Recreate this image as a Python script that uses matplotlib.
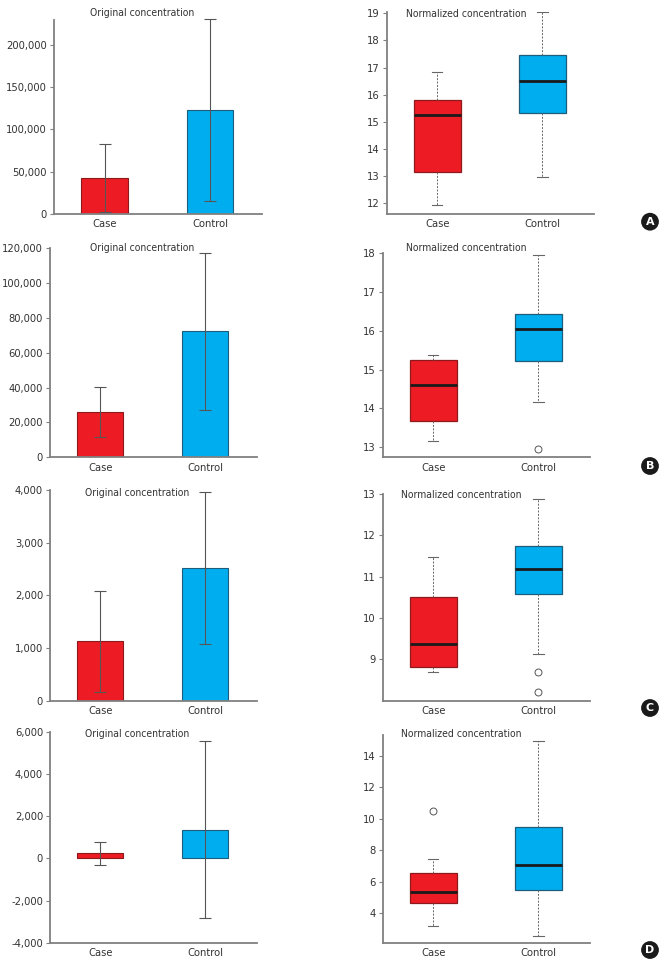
import numpy as np
import matplotlib
matplotlib.use('Agg')
import matplotlib.pyplot as plt
from matplotlib.ticker import StrMethodFormatter

plt.rcParams['font.family'] = ['DejaVu Sans']
plt.rcParams['font.stretch'] = 'condensed'
plt.rcParams['font.size'] = 8
plt.rcParams['axes.unicode_minus'] = False

groups = ['Case', 'Control']
panel_letters = ['A', 'B', 'C', 'D']

# original concentration: mean and error
bar_means = [[42250, 122700], [26100, 72200], [1130, 2520], [250, 1370]]
bar_errs = [[40250, 108000], [14300, 44800], [960, 1435], [550, 4200]]
bar_ylims = [(0, 230000), (0, 120000), (0, 4000), (-4000, 6000)]
bar_ticks = [np.arange(0, 200001, 50000), np.arange(0, 120001, 20000),
             np.arange(0, 4001, 1000), np.arange(-4000, 6001, 2000)]

# normalized concentration: whislo, q1, med, q3, whishi, fliers
box_case = [(11.93, 13.16, 15.25, 15.82, 16.85, []),
            (13.16, 13.67, 14.60, 15.25, 15.38, []),
            (8.69, 8.81, 9.36, 10.50, 11.48, []),
            (3.18, 4.69, 5.38, 6.56, 7.45, [10.5])]
box_ctrl = [(12.96, 15.34, 16.49, 17.47, 19.05, []),
            (14.17, 15.23, 16.05, 16.44, 17.95, [12.95]),
            (9.12, 10.57, 11.18, 11.74, 12.88, [8.69, 8.2]),
            (2.60, 5.50, 7.07, 9.47, 14.92, [])]
box_ylims = [(11.62, 19.06), (12.74, 18.02), (8.0, 13.0), (2.15, 15.3)]
box_ticks = [np.arange(12, 20), np.arange(13, 19), np.arange(9, 14), np.arange(4, 15, 2)]

red, red_edge = '#ED1C24', '#8C1A1D'
blue, blue_edge = '#00AEEF', '#1D5C7A'
spine_c = '#808080'
text_c = '#333333'

W, H = 672, 971
fig = plt.figure(figsize=(W / 100, H / 100), dpi=100)

# axes boxes in pixels: left, top, right, bottom
left_boxes = [(54, 20, 262, 213.7), (50, 248, 256.7, 457.3),
              (50, 490, 256.7, 700.7), (50, 732, 256.7, 942.7)]
right_boxes = [(386.7, 11.7, 594, 213.7), (382.7, 252.7, 590, 457.3),
               (382.7, 494, 590, 700.7), (382.7, 735, 590, 942.7)]
left_titles = [(90, 13), (90, 248.3), (85, 492.7), (85, 734.3)]
right_titles = [(405.7, 13.7), (405.7, 248.3), (400.7, 495.3), (400.7, 734.3)]
letter_pos = [(650, 221.7), (650, 466), (650, 708), (650, 950)]


def add_ax(b):
    l, t, r, bt = b
    return fig.add_axes([l / W, 1 - bt / H, (r - l) / W, (bt - t) / H])


def style(ax):
    for s in ['top', 'right']:
        ax.spines[s].set_visible(False)
    for s in ['left', 'bottom']:
        ax.spines[s].set_color(spine_c)
        ax.spines[s].set_linewidth(1.3)
    ax.tick_params(axis='y', colors=spine_c, labelcolor=text_c, length=3, width=0.8, pad=2)
    ax.tick_params(axis='x', length=0, labelcolor=text_c, pad=4)
    ax.set_xticks([0, 1])
    ax.set_xticklabels(groups)
    ax.set_xlim(-0.48, 1.49)
    ax.patch.set_alpha(0)


for i in range(4):
    # bar chart with error bars
    ax = add_ax(left_boxes[i])
    ax.bar([0, 1], bar_means[i], width=0.44, color=[red, blue],
           edgecolor=[red_edge, blue_edge], linewidth=0.8)
    ax.errorbar([0, 1], bar_means[i], yerr=bar_errs[i], fmt='none',
                ecolor='#555555', elinewidth=0.8, capsize=4, capthick=0.8, clip_on=False)
    ax.set_ylim(*bar_ylims[i])
    ax.set_yticks(bar_ticks[i])
    ax.yaxis.set_major_formatter(StrMethodFormatter('{x:,.0f}'))
    style(ax)

    # box plot
    ax = add_ax(right_boxes[i])
    stats = []
    for g, s in zip(groups, [box_case[i], box_ctrl[i]]):
        stats.append(dict(label=g, whislo=s[0], q1=s[1], med=s[2], q3=s[3],
                          whishi=s[4], fliers=s[5]))
    bp = ax.bxp(stats, positions=[0, 1], widths=0.45, patch_artist=True,
                boxprops=dict(linewidth=0.9),
                medianprops=dict(color='#1a1a1a', linewidth=2),
                whiskerprops=dict(color='#666666', linewidth=0.7, linestyle=(0, (2, 1.5))),
                capprops=dict(color='#666666', linewidth=0.8),
                flierprops=dict(marker='o', markersize=5, markerfacecolor='white',
                                markeredgecolor='#555555', markeredgewidth=0.7))
    for patch, fc, ec in zip(bp['boxes'], [red, blue], [red_edge, blue_edge]):
        patch.set_facecolor(fc)
        patch.set_edgecolor(ec)
    for cap in bp['caps']:
        x = cap.get_xdata()
        c = x.mean()
        cap.set_xdata([c - 0.05, c + 0.05])
    ax.set_ylim(*box_ylims[i])
    ax.set_yticks(box_ticks[i])
    style(ax)

    fig.text(left_titles[i][0] / W, 1 - left_titles[i][1] / H, 'Original concentration',
             ha='left', va='center', color=text_c, fontsize=7.5)
    fig.text(right_titles[i][0] / W, 1 - right_titles[i][1] / H, 'Normalized concentration',
             ha='left', va='center', color=text_c, fontsize=7.5)
    fig.text(letter_pos[i][0] / W, 1 - letter_pos[i][1] / H, panel_letters[i],
             ha='center', va='center', color='white', fontsize=8, fontweight='bold',
             fontstretch='normal',
             bbox=dict(boxstyle='circle,pad=0.35', fc='#1a1a1a', ec='none'))

fig.savefig('out.png', dpi=100)
